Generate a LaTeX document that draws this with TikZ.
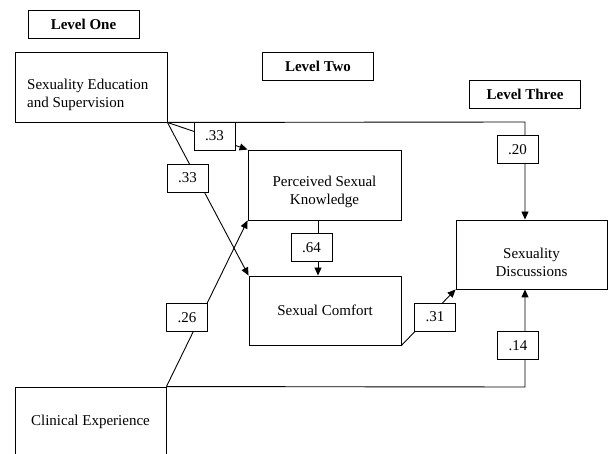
\documentclass[tikz,border=0pt]{standalone}
\usepackage{fontspec}
\setmainfont{Liberation Serif}
\usetikzlibrary{arrows.meta}
\begin{document}
\begin{tikzpicture}[x=1pt,y=-1pt,
  every node/.style={font=\fontsize{15}{18}\selectfont},
  box/.style={draw, line width=0.9pt, inner sep=0pt, align=center},
  lvl/.style={box, font=\fontsize{15}{18}\selectfont\bfseries, minimum width=111pt, minimum height=28pt},
  lab/.style={box, fill=white, minimum width=41pt, minimum height=28pt},
  con/.style={line width=0.9pt},
  arr/.style={con, -{Triangle[length=8pt,width=7pt]}}
]
\useasboundingbox (0,0) rectangle (613,454);
\clip (0,0) rectangle (613,454);
% level headers
\node[lvl] (l1) at (83.5,24) {Level One};
\node[lvl] (l2) at (318,66) {Level Two};
\node[lvl] (l3) at (525,94) {Level Three};
% main boxes
\node[box, minimum width=152pt, minimum height=70pt] (se) at (91,87) {};
\node[anchor=west, align=left, inner sep=0pt] (set) at (27,95) {Sexuality Education\\and Supervision};
\node[box, minimum width=153pt, minimum height=70pt] (psk) at (324.5,185) {};
\node[align=center, inner sep=0pt] (pskt) at (324.5,192) {Perceived Sexual\\Knowledge};
\node[box, minimum width=152pt, minimum height=69pt] (sc) at (325,310.5) {Sexual Comfort};
\node[box, minimum width=151pt, minimum height=69pt] (sd) at (531.5,254.5) {};
\node[align=center, inner sep=0pt] (sdt) at (531.5,262) {Sexuality\\Discussions};
\node[box, minimum width=151pt, minimum height=80pt] (ce) at (90.5,427) {};
\node[inner sep=0pt] (cet) at (90.5,422) {Clinical Experience};
% helper coordinates
\coordinate (c20) at (525,122);
\coordinate (c14) at (525,387);
\coordinate (c64) at (318,0);
% connectors
\draw[arr] (se.south east) -- (c20) -- (c20 |- sd.north);
\draw[arr] (se.south east) -- (psk.north west);
\draw[arr] (se.south east) -- (sc.north west);
\draw[arr] (ce.north east) -- (psk.south west);
\draw[arr] (ce.north east) -- (c14) -- (c14 |- sd.south);
\draw[arr] (c64 |- psk.south) -- (c64 |- sc.north);
\draw[arr] (sc.south east) -- (sd.south west);
% coefficient labels
\node[lab] (k1) at (214.5,136) {.33};
\node[lab] (k2) at (187.5,178) {.33};
\node[lab] (k3) at (517.5,149.5) {.20};
\node[lab] (k4) at (311.5,247.5) {.64};
\node[lab] (k5) at (187,317.5) {.26};
\node[lab] (k6) at (435,317) {.31};
\node[lab] (k7) at (518,345.5) {.14};
\end{tikzpicture}
\end{document}
